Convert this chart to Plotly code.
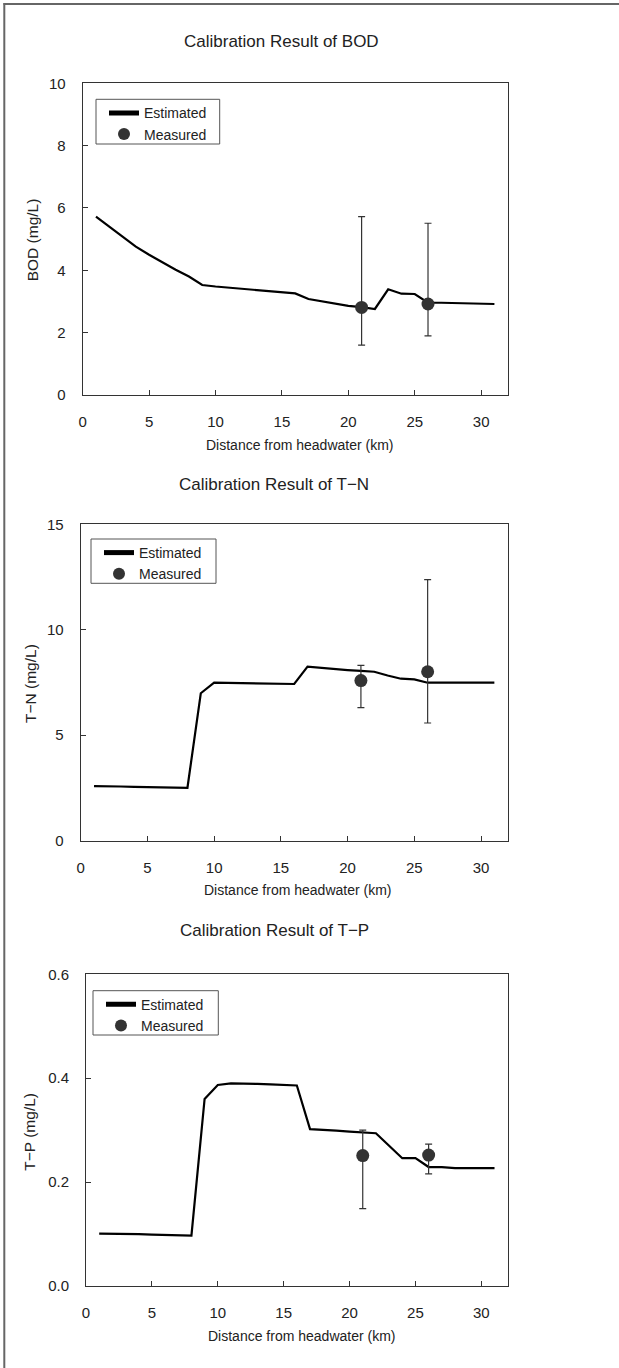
import plotly.graph_objects as go

W, H = 619, 1368

# ---------------- data ----------------
km = list(range(1, 32))

bod_est = [5.72, 5.40, 5.07, 4.76, 4.50, 4.25, 4.02, 3.80, 3.53, 3.48,
           3.44, 3.40, 3.37, 3.33, 3.29, 3.26, 3.08, 3.00, 2.92, 2.86,
           2.82, 2.76, 3.39, 3.25, 3.24, 2.96, 2.96, 2.95, 2.92, 2.92, 2.92]
tn_est = [2.59, 2.59, 2.57, 2.55, 2.54, 2.53, 2.52, 2.51, 6.99, 7.49,
          7.48, 7.47, 7.47, 7.45, 7.44, 7.43, 8.25, 8.19, 8.14, 8.09,
          8.05, 8.01, 7.83, 7.68, 7.65, 7.49, 7.49, 7.49, 7.49, 7.49, 7.49]
tp_est = [0.101, 0.101, 0.100, 0.100, 0.099, 0.098, 0.098, 0.097, 0.360, 0.387,
          0.390, 0.390, 0.389, 0.388, 0.387, 0.386, 0.302, 0.301, 0.299, 0.297,
          0.295, 0.294, 0.270, 0.246, 0.246, 0.229, 0.229, 0.227, 0.227, 0.227, 0.227]

meas_km = [21, 26]
bod_meas = [2.81, 2.92]
bod_hi = [5.72, 5.51]
bod_lo = [1.60, 1.90]
tn_meas = [7.59, 8.01]
tn_hi = [8.31, 12.38]
tn_lo = [6.31, 5.58]
tp_meas = [0.251, 0.252]
tp_hi = [0.300, 0.273]
tp_lo = [0.149, 0.216]

titles = ["Calibration Result of BOD", "Calibration Result of T\u2212N", "Calibration Result of T\u2212P"]
ytitles = ["BOD (mg/L)", "T\u2212N (mg/L)", "T\u2212P (mg/L)"]
xtitle = "Distance from headwater (km)"
x_ticks = [0, 5, 10, 15, 20, 25, 30]
y_ticks = [[0, 2, 4, 6, 8, 10], [0, 5, 10, 15], [0.0, 0.2, 0.4, 0.6]]
y_ticklabels = [["0", "2", "4", "6", "8", "10"], ["0", "5", "10", "15"], ["0.0", "0.2", "0.4", "0.6"]]
y_ranges = [[0, 10], [0, 15], [0, 0.6]]

# ---------------- layout geometry (pixels) ----------------
FONT = "Liberation Sans, Arial, sans-serif"
TXT = "#222222"
panels = [
    dict(l=82.7, r=507.7, t=83.3, b=395.0, title=(281.7, 41.7), xt=(299.7, 445.0), yt=(32.3, 240.0),
         box=(96.0, 99.3, 219.7, 144.0)),
    dict(l=80.7, r=507.7, t=524.3, b=840.7, title=(274.0, 484.0), xt=(298.3, 890.0), yt=(30.0, 684.0),
         box=(91.0, 539.0, 216.0, 583.3)),
    dict(l=86.0, r=507.7, t=974.3, b=1286.0, title=(274.5, 930.0), xt=(301.7, 1335.7), yt=(30.0, 1131.7),
         box=(93.0, 990.7, 218.3, 1035.0)),
]

def px(x):
    return x / W

def py(y):
    return 1 - y / H

fig = go.Figure()

est = [bod_est, tn_est, tp_est]
meas = [bod_meas, tn_meas, tp_meas]
his = [bod_hi, tn_hi, tp_hi]
los = [bod_lo, tn_lo, tp_lo]

annotations = []
shapes = [
    dict(type="line", xref="paper", yref="paper", x0=px(3.5), x1=1, y0=py(4.0), y1=py(4.0),
         line=dict(color="#666666", width=2)),
    dict(type="line", xref="paper", yref="paper", x0=px(4.3), x1=px(4.3), y0=py(3.0), y1=0,
         line=dict(color="#666666", width=2)),
]
for i in range(3):
    sfx = "" if i == 0 else str(i + 1)
    leg = "legend" + sfx
    xa, ya = "x" + sfx, "y" + sfx
    fig.add_trace(go.Scatter(
        x=km, y=est[i], mode="lines", name="Estimated",
        line=dict(color="#000000", width=2.2),
        xaxis=xa, yaxis=ya, legend=leg))
    up = [h - m for h, m in zip(his[i], meas[i])]
    dn = [m - l for m, l in zip(meas[i], los[i])]
    fig.add_trace(go.Scatter(
        x=meas_km, y=meas[i], mode="markers", name="Measured",
        marker=dict(color="#333333", size=13),
        error_y=dict(type="data", array=up, arrayminus=dn, color="#333333", thickness=1.2, width=3.5),
        xaxis=xa, yaxis=ya, legend=leg))

    p = panels[i]
    axcommon = dict(showline=True, mirror=True, linecolor="#333333", linewidth=1,
                    showgrid=False, zeroline=False, ticks="inside", ticklen=5,
                    tickcolor="#333333", tickfont=dict(family=FONT, size=15, color=TXT),
                    automargin=False)
    fig.layout["xaxis" + sfx] = dict(
        domain=[px(p["l"]), px(p["r"])], range=[0, 32], tickvals=x_ticks,
        anchor=ya, ticklabelstandoff=13, **axcommon)
    fig.layout["yaxis" + sfx] = dict(
        domain=[py(p["b"]), py(p["t"])], range=y_ranges[i], tickvals=y_ticks[i],
        ticktext=y_ticklabels[i], anchor=xa, ticklabelstandoff=13, **axcommon)
    bx0, by0, bx1, by1 = p["box"]
    fig.layout[leg] = dict(
        x=px(bx0 + 8), y=py(by0 - 2), xanchor="left", yanchor="top",
        xref="paper", yref="paper",
        bgcolor="rgba(0,0,0,0)", borderwidth=0,
        font=dict(family=FONT, size=14, color=TXT), tracegroupgap=0,
        itemsizing="constant")
    shapes.append(dict(type="rect", xref="paper", yref="paper",
                       x0=px(bx0), x1=px(bx1), y0=py(by1), y1=py(by0),
                       line=dict(color="#555555", width=1), fillcolor="rgba(0,0,0,0)"))

    annotations.append(dict(x=px(p["title"][0]), y=py(p["title"][1]), xref="paper", yref="paper",
                            text=titles[i], showarrow=False, xanchor="center", yanchor="middle",
                            font=dict(family=FONT, size=17, color=TXT)))
    annotations.append(dict(x=px(p["xt"][0]), y=py(p["xt"][1]), xref="paper", yref="paper",
                            text=xtitle, showarrow=False, xanchor="center", yanchor="middle",
                            font=dict(family=FONT, size=14, color=TXT)))
    annotations.append(dict(x=px(p["yt"][0]), y=py(p["yt"][1]), xref="paper", yref="paper",
                            text=ytitles[i], showarrow=False, xanchor="center", yanchor="middle",
                            textangle=-90, font=dict(family=FONT, size=15.5, color=TXT)))

fig.update_layout(
    width=W, height=H, margin=dict(l=0, r=0, t=0, b=0),
    paper_bgcolor="white", plot_bgcolor="white",
    annotations=annotations, shapes=shapes, showlegend=True,
    hovermode=False,
    font=dict(family=FONT, color=TXT),
)

fig.write_html("out.html", config={"displayModeBar": False},
               post_script="document.body.style.margin='0';")
